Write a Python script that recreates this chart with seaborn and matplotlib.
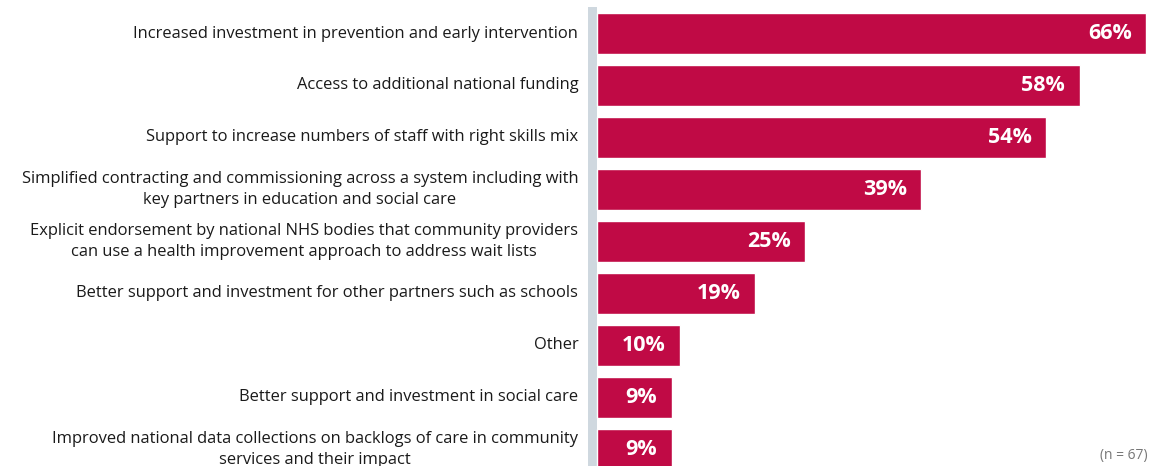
import matplotlib
matplotlib.use("Agg")
import matplotlib.pyplot as plt
import seaborn as sns
import pandas as pd

categories = [
    "Increased investment in prevention and early intervention",
    "Access to additional national funding",
    "Support to increase numbers of staff with right skills mix",
    "Simplified contracting and commissioning across a system including with\nkey partners in education and social care",
    "Explicit endorsement by national NHS bodies that community providers\ncan use a health improvement approach to address wait lists",
    "Better support and investment for other partners such as schools",
    "Other",
    "Better support and investment in social care",
    "Improved national data collections on backlogs of care in community\nservices and their impact",
]
values = [66, 58, 54, 39, 25, 19, 10, 9, 9]
note = "(n = 67)"

BAR = "#c00a45"
BAND = "#cfd8df"
TEXT = "#1a1a1a"

sns.set_theme(style="white")
plt.rcParams["font.family"] = ["Open Sans", "DejaVu Sans"]

df = pd.DataFrame({"option": categories, "share": values})

fig = plt.figure(figsize=(11.6, 4.66), dpi=100)
ax = fig.add_axes([588 / 1160, 0.0, 1 - 588 / 1160, (466 - 7) / 466])

sns.barplot(data=df, x="share", y="option", orient="h", color=BAR,
            saturation=1, width=0.79, ax=ax, order=categories)

ax.set_xlim(-1.08, 67.67)
ax.set_ylim(8.32, -0.51)
ax.axvspan(-1.08, 0, color=BAND, zorder=0, lw=0)

for i, v in enumerate(values):
    ax.text(v - 1.75, i, f"{v}%", ha="right", va="center", color="white",
            fontsize=15.5, fontweight="bold")

ax.set_xlabel("")
ax.set_ylabel("")
ax.set_xticks([])
ax.tick_params(axis="y", length=0, pad=7, labelsize=11.9, labelcolor=TEXT)
for lab in ax.get_yticklabels():
    lab.set_multialignment("center")
    lab.set_linespacing(1.45)
    lab.set_verticalalignment("center")
for s in ax.spines.values():
    s.set_visible(False)

fig.text(1148 / 1160, 1 - 455 / 466, note, ha="right", va="center",
         fontsize=10, color="#777777")

fig.savefig("out.png", dpi=100)
